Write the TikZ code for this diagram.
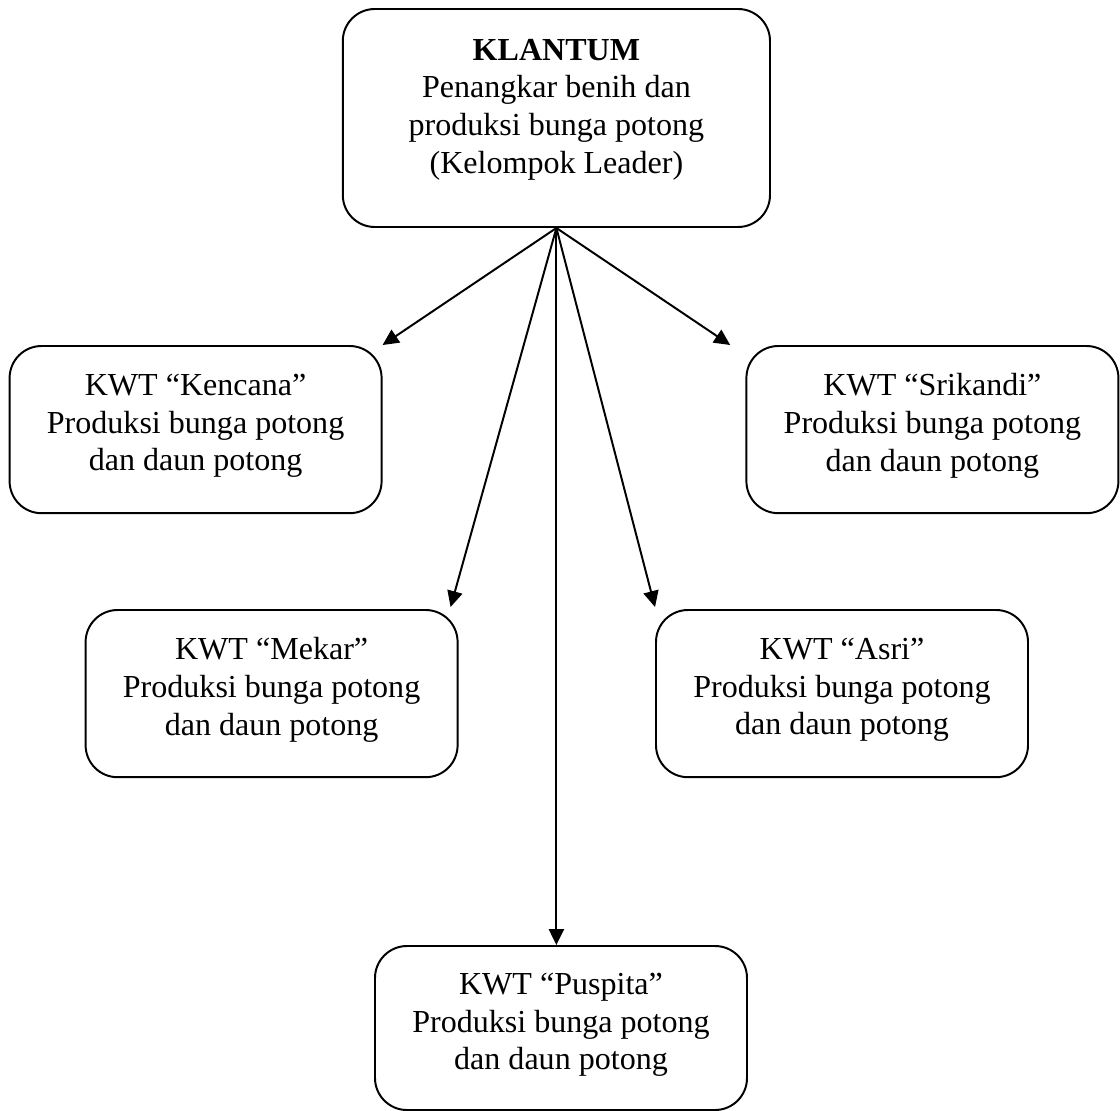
\documentclass[tikz,border=0pt]{standalone}
\usepackage{fontspec}
\setmainfont{Liberation Serif}
\usepackage{tikz}
\usetikzlibrary{arrows.meta}

\tikzset{
	grp/.style={draw, line width=1.4pt, rounded corners=0.8cm, align=center,
		font=\fontsize{22.8}{26.8}\selectfont,
		minimum width=9.3cm, minimum height=4.18cm, text depth=0.36cm},
}

\begin{document}
\begin{tikzpicture}[>={Triangle[length=0.4cm,width=0.38cm]}]
		\useasboundingbox (0,0) rectangle (28,-27.775);
		\node[grp, minimum width=10.68cm, minimum height=5.45cm, text depth=0.6cm] (klantum) at (13.91,-2.95) {\textbf{KLANTUM}\\Penangkar benih dan\\produksi bunga potong\\(Kelompok Leader)};
		\node[grp] (kencana) at (4.89,-10.74) {KWT “Kencana”\\Produksi bunga potong\\dan daun potong};
		\node[grp] (srikandi) at (23.31,-10.74) {KWT “Srikandi”\\Produksi bunga potong\\dan daun potong};
		\node[grp] (mekar) at (6.79,-17.34) {KWT “Mekar”\\Produksi bunga potong\\dan daun potong};
		\node[grp] (asri) at (21.05,-17.34) {KWT “Asri”\\Produksi bunga potong\\dan daun potong};
		\node[grp, minimum height=4.1cm, text depth=0.33cm] (puspita) at (14.025,-25.7) {KWT “Puspita”\\Produksi bunga potong\\dan daun potong};
		%
		\path[->, line width=1.4pt]
		(klantum.south) edge (kencana.north east)
		(klantum.south) edge ([xshift=-0.38cm]srikandi.north west)
		(klantum.south) edge ([xshift=-0.2cm,yshift=0.05cm]mekar.north east)
		(klantum.south) edge ([yshift=0.05cm]asri.north west)
		(klantum.south) edge (klantum.south |- puspita.north);
\end{tikzpicture}
\end{document}
